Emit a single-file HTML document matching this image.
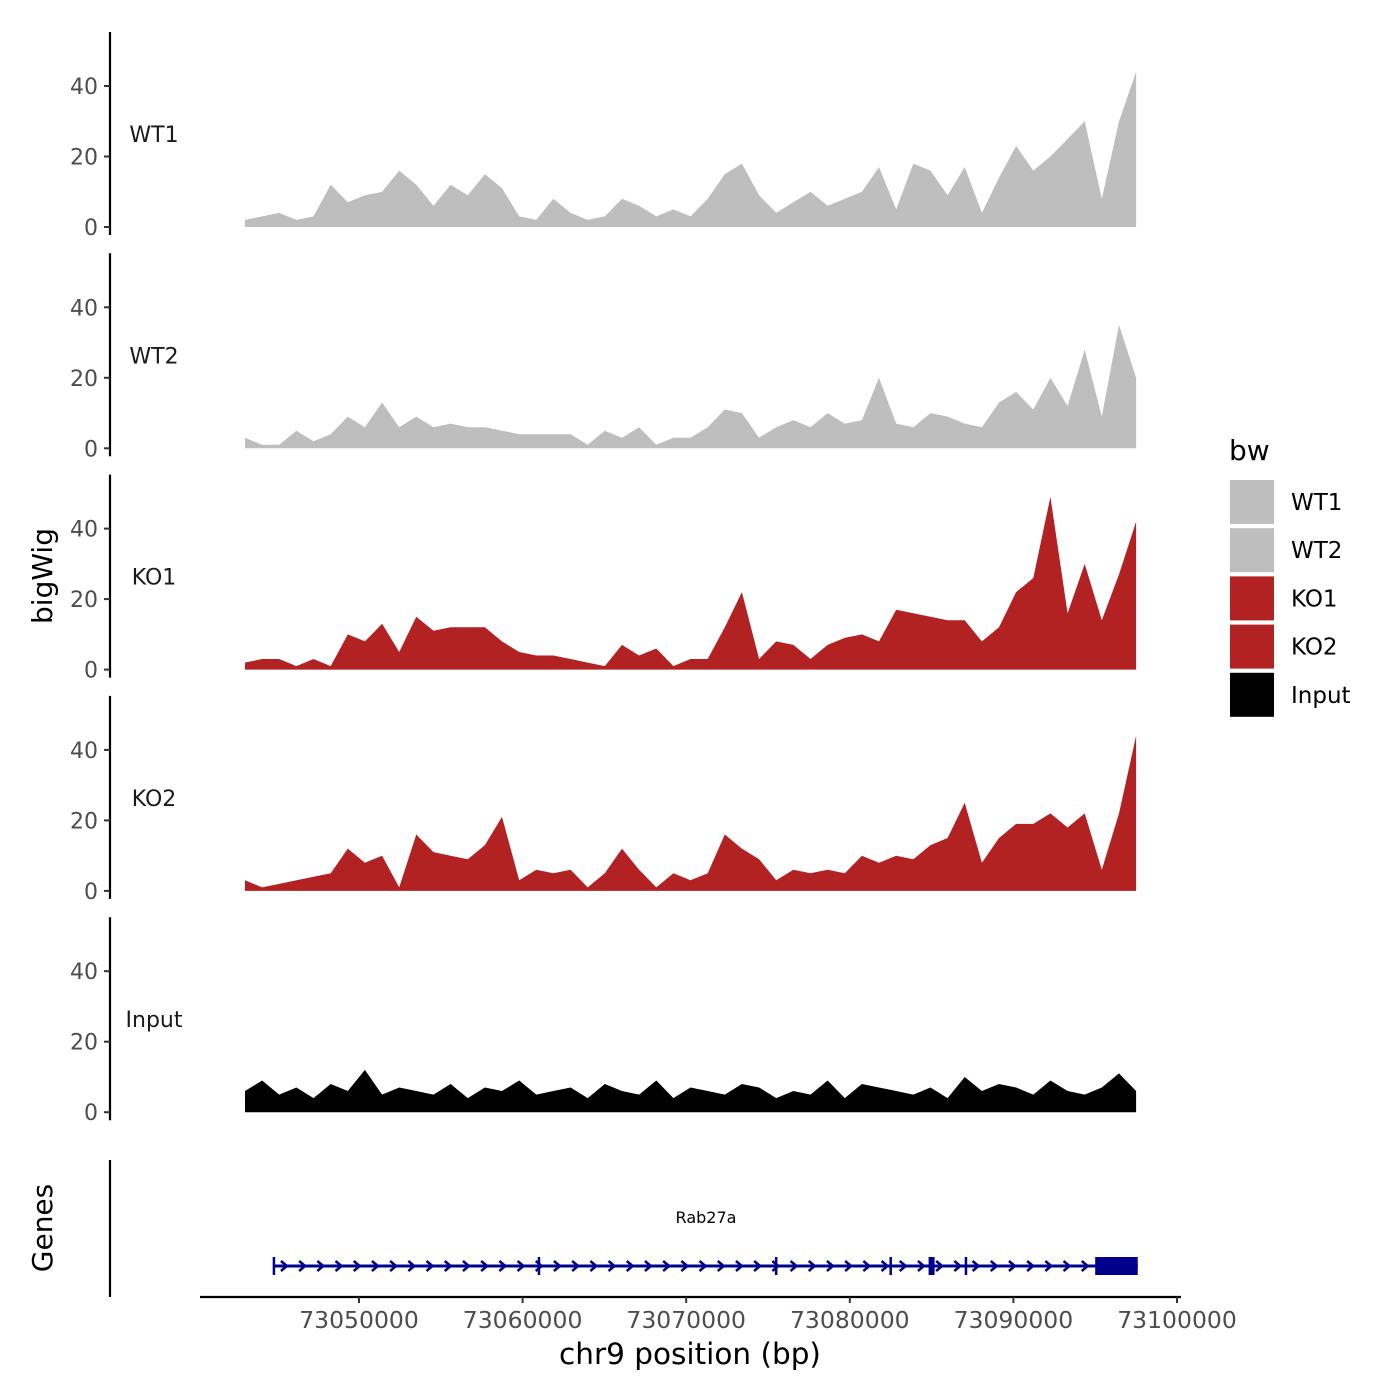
<!DOCTYPE html>
<html><head><meta charset="utf-8"><style>
body{margin:0;background:#fff}
svg{display:block;font-family:"DejaVu Sans","Liberation Sans",sans-serif}
</style></head><body>
<svg id="chart" width="1400" height="1400" viewBox="0 0 1400 1400" xmlns="http://www.w3.org/2000/svg"></svg>
<script>
const trackNames = ["WT1","WT2","KO1","KO2","Input"];
const trackColors = ["#bebebe","#bebebe","#b22222","#b22222","#000000"];
const wt1 = [2,3,4,2,3,12,7,9,10,16,12,6,12,9,15,11,3,2,8,4,2,3,8,6,3,5,3,8,15,18,9,4,7,10,6,8,10,17,5,18,16,9,17,4,14,23,16,20,25,30,8,30,44];
const wt2 = [3,1,1,5,2,4,9,6,13,6,9,6,7,6,6,5,4,4,4,4,1,5,3,6,1,3,3,6,11,10,3,6,8,6,10,7,8,20,7,6,10,9,7,6,13,16,11,20,12,28,9,35,20];
const ko1 = [2,3,3,1,3,1,10,8,13,5,15,11,12,12,12,8,5,4,4,3,2,1,7,4,6,1,3,3,12,22,3,8,7,3,7,9,10,8,17,16,15,14,14,8,12,22,26,49,16,30,14,27,42];
const ko2 = [3,1,2,3,4,5,12,8,10,1,16,11,10,9,13,21,3,6,5,6,1,5,12,6,1,5,3,5,16,12,9,3,6,5,6,5,10,8,10,9,13,15,25,8,15,19,19,22,18,22,6,22,44];
const input = [6,9,5,7,4,8,6,12,5,7,6,5,8,4,7,6,9,5,6,7,4,8,6,5,9,4,7,6,5,8,7,4,6,5,9,4,8,7,6,5,7,4,10,6,8,7,5,9,6,5,7,11,6];
const trackData = [wt1, wt2, ko1, ko2, input];
const yTicks = [0,20,40];
const xTicks = [73050000,73060000,73070000,73080000,73090000,73100000];
const dataStart = 73043030, dataEnd = 73097500;
const exonStarts = [73044800, 73061000, 73075500, 73082500, 73085000, 73087100];

const svg = document.getElementById('chart');
const NS = "http://www.w3.org/2000/svg";
function el(tag, attrs, parent){const e=document.createElementNS(NS,tag);for(const k in attrs)e.setAttribute(k,attrs[k]);(parent||svg).appendChild(e);return e;}
function xScale(bp){return 359 + (bp-73050000)/10000*163.6;}
const pxPerUnit = 3.525;

trackData.forEach((vals, t) => {
  const base = 227 + t*221.3;
  const g = el('g', {});
  
  
  const axis = el('line', {x1:110,x2:110,y1:base-195,y2:base+8,stroke:'#000','stroke-width':2.2}, g);
  
  
  yTicks.forEach(v => {
    const y = base - v*pxPerUnit;
    el('line', {x1:104,x2:110,y1:y,y2:y,stroke:'#333','stroke-width':2}, g);
    const tx = el('text', {x:98,y:y+8,'text-anchor':'end','font-size':22,fill:'#4d4d4d'}, g);
    tx.textContent = v;
    
    
  });
  const lbl = el('text', {x:154,y:base-85,'text-anchor':'middle','font-size':22,fill:'#1a1a1a'}, g);
  lbl.textContent = trackNames[t];
  
  
  const n = vals.length;
  let d = 'M' + xScale(dataStart) + ',' + base;
  vals.forEach((v,i) => {
    const bp = dataStart + (dataEnd-dataStart)*i/(n-1);
    d += ' L' + xScale(bp).toFixed(1) + ',' + (base - v*pxPerUnit).toFixed(1);
  });
  d += ' L' + xScale(dataEnd) + ',' + base + ' Z';
  const area = el('path', {d:d, fill:trackColors[t]}, g);
  
  
});

// Genes panel
const gaxis = el('line', {x1:110,x2:110,y1:1160,y2:1297,stroke:'#000','stroke-width':2.2});


const gy = 1266;
const gStart = 73044800, gEnd = 73097600;
const gene = el('g', {});


el('line', {x1:xScale(gStart),x2:xScale(gEnd),y1:gy,y2:gy,stroke:'#00008b','stroke-width':3}, gene);
for (let x = xScale(gStart)+10; x < xScale(73095000); x += 18.2) {
  el('path', {d:`M${x-3},${gy-5} L${x+3},${gy} L${x-3},${gy+5}`,stroke:'#00008b','stroke-width':2.5,fill:'none'}, gene);
}
exonStarts.forEach((s,i) => {
  const w = i===4 ? 6 : 2.5;
  el('rect', {x:xScale(s)-w/2,y:gy-9,width:w,height:18,fill:'#00008b'}, gene);
});
el('rect', {x:xScale(73095000),y:gy-9,width:xScale(gEnd)-xScale(73095000),height:18,fill:'#00008b'}, gene);
const gname = el('text', {x:706,y:1223,'text-anchor':'middle','font-size':16,fill:'#000'}, gene);
gname.textContent = 'Rab27a';

// x axis
const xa = el('line', {x1:200,x2:1181,y1:1297,y2:1297,stroke:'#000','stroke-width':2.2});


xTicks.forEach(v => {
  const x = xScale(v);
  el('line', {x1:x,x2:x,y1:1297,y2:1303,stroke:'#333','stroke-width':2});
  const t = el('text', {x:x,y:1328,'text-anchor':'middle','font-size':23.5,fill:'#4d4d4d'});
  t.textContent = v;
  
  
});
const xt = el('text', {x:690,y:1364,'text-anchor':'middle','font-size':29.5,fill:'#000'});
xt.textContent = 'chr9 position (bp)';


const yt = el('text', {x:0,y:0,'text-anchor':'middle','font-size':28,fill:'#000',transform:'translate(52,576) rotate(-90)'});
yt.textContent = 'bigWig';


const gt = el('text', {x:0,y:0,'text-anchor':'middle','font-size':28,fill:'#000',transform:'translate(52,1228) rotate(-90)'});
gt.textContent = 'Genes';



// Legend
const legendKeys = ["WT1","WT2","KO1","KO2","Input"];
const lg = el('g', {});


const lt = el('text', {x:1229,y:460,'font-size':28,fill:'#000'}, lg);
lt.textContent = 'bw';
legendKeys.forEach((k,i) => {
  const y = 480 + i*48.2;
  const r = el('rect', {x:1230,y:y,width:44,height:44,fill:trackColors[i]}, lg);
  
  
  const t = el('text', {x:1291,y:y+30,'font-size':23,fill:'#000'}, lg);
  t.textContent = k;
  
  
});
</script>
</body></html>
